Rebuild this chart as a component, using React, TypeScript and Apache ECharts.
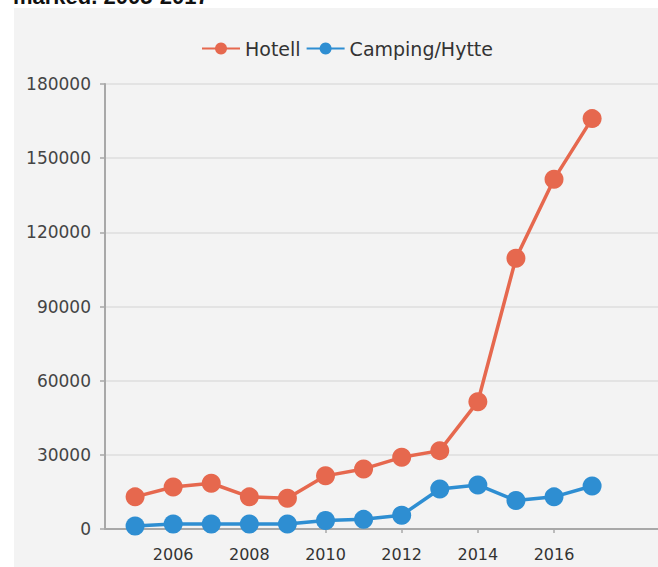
import React, { useEffect, useRef } from "react";
import * as echarts from "echarts";

const years = [2005, 2006, 2007, 2008, 2009, 2010, 2011, 2012, 2013, 2014, 2015, 2016, 2017];
const hotell = [13000, 17000, 18500, 13000, 12400, 21500, 24300, 29000, 31700, 51500, 109500, 141500, 166000];
const camping = [1200, 2000, 2000, 2000, 2000, 3400, 3900, 5600, 16200, 17800, 11500, 13000, 17400];
const xTickLabels = [2006, 2008, 2010, 2012, 2014, 2016];
const seriesNames = ["Hotell", "Camping/Hytte"];
const titleText = "marked. 2005-2017";

const RED = "#e6684e";
const BLUE = "#2e8ed2";

export default function App() {
  const ref = useRef<HTMLDivElement>(null);
  useEffect(() => {
    if (!ref.current) return;
    const chart = echarts.init(ref.current, undefined, { renderer: "svg" });
    const font = "DejaVu Sans";
    chart.setOption({
      animation: false,
      backgroundColor: "#ffffff",
      graphic: [
        {
          type: "rect",
          z: -10,
          silent: true,
          shape: { x: 14, y: 8, width: 660, height: 570 },
          style: { fill: "#f3f3f3" },
        },
        {
          type: "text",
          x: 13,
          y: -4,
          z: 10,
          style: {
            text: titleText,
            font: "bold 22px 'Liberation Sans', Arial",
            fill: "#111",
            verticalAlign: "middle",
          },
        },
      ],
      legend: {
        top: 34,
        left: 196,
        itemWidth: 38,
        itemHeight: 15,
        itemGap: 5,
        data: seriesNames,
        textStyle: { fontFamily: font, fontSize: 19, color: "#333333" },
      },
      grid: { left: 105, right: 0, top: 84, bottom: 38, containLabel: false },
      xAxis: {
        type: "value",
        min: 2004.21,
        max: 2018.73,
        splitLine: { show: false },
        axisLine: { show: true, lineStyle: { color: "#a8a8a8", width: 2 } },
        axisTick: { show: true, length: 4, customValues: xTickLabels, lineStyle: { color: "#a8a8a8", width: 1.5 } },
        axisLabel: {
          customValues: xTickLabels,
          formatter: (v: number) => String(v),
          fontFamily: font,
          fontSize: 16,
          color: "#333333",
          margin: 17,
        },
      },
      yAxis: {
        type: "value",
        min: 0,
        max: 180000,
        interval: 30000,
        axisLine: { show: true, lineStyle: { color: "#a8a8a8", width: 2 } },
        axisTick: { show: true, length: 5, lineStyle: { color: "#a8a8a8", width: 1.5 } },
        splitLine: { lineStyle: { color: "#dedede", width: 1.5 } },
        axisLabel: {
          formatter: (v: number) => String(v),
          fontFamily: font,
          fontSize: 17,
          color: "#444444",
          margin: 14,
        },
      },
      series: [
        {
          name: seriesNames[0],
          type: "line",
          data: years.map((y, i) => [y, hotell[i]]),
          symbol: "circle",
          symbolSize: 19,
          lineStyle: { color: RED, width: 3.5 },
          itemStyle: { color: RED },
        },
        {
          name: seriesNames[1],
          type: "line",
          data: years.map((y, i) => [y, camping[i]]),
          symbol: "circle",
          symbolSize: 19,
          lineStyle: { color: BLUE, width: 3.5 },
          itemStyle: { color: BLUE },
        },
      ],
    });
    return () => chart.dispose();
  }, []);
  return (
    <div
      ref={ref}
      style={{ position: "fixed", left: 0, top: 0, width: 658, height: 567 }}
    />
  );
}
